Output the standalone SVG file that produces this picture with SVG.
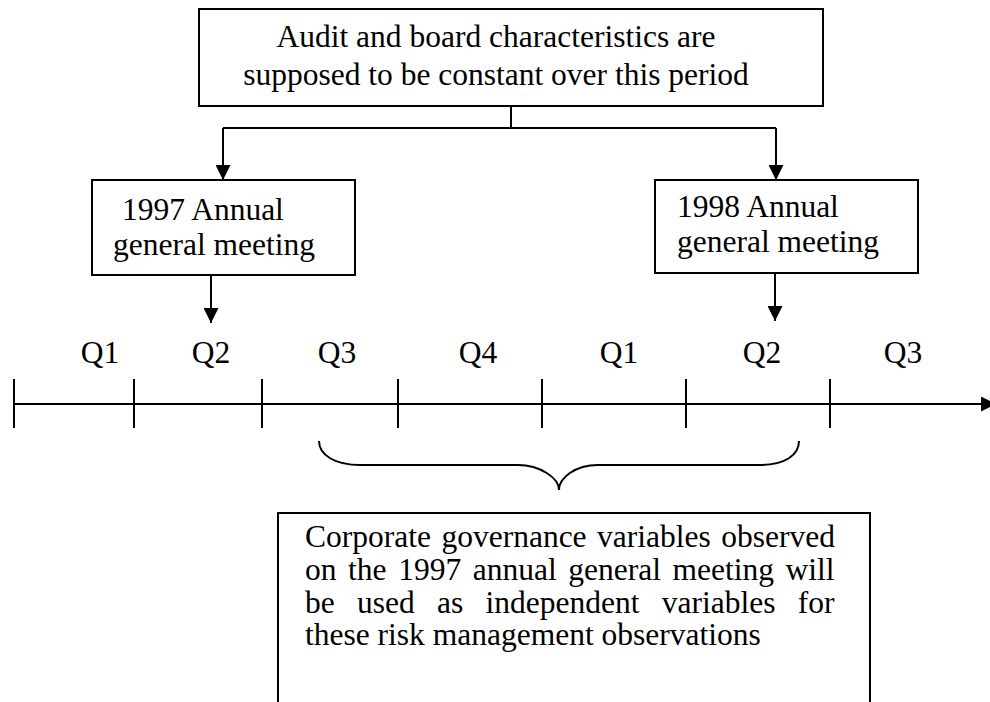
<svg xmlns="http://www.w3.org/2000/svg" width="990" height="702" viewBox="0 0 990 702">
<defs>
<style>
.box{fill:#fff;stroke:#000;stroke-width:2}
.t{font-family:"Liberation Serif","Times New Roman",serif;font-size:31.5px;fill:#000}
.c{text-anchor:middle}
.ln{fill:none;stroke:#000;stroke-width:2}
</style>
<marker id="ah" viewBox="0 0 15 15" refX="15" refY="7.5" markerWidth="15" markerHeight="15" markerUnits="userSpaceOnUse" orient="auto">
<path d="M0,0 L15,7.5 L0,15 Z" fill="#000"/>
</marker>
</defs>
<rect width="990" height="702" fill="#fff"/>
<g id="top-box">
<rect class="box" x="199" y="9" width="624" height="97"/>
<text class="t c" x="496" y="47">Audit and board characteristics are</text>
<text class="t c" x="496" y="85">supposed to be constant over this period</text>
</g>
<g id="agm-1997">
<rect class="box" x="92" y="180" width="263" height="95"/>
<text class="t" x="122" y="220">1997 Annual</text>
<text class="t" x="113" y="255">general meeting</text>
</g>
<g id="agm-1998">
<rect class="box" x="655" y="180" width="263" height="93"/>
<text class="t" x="677" y="217">1998 Annual</text>
<text class="t" x="677" y="252">general meeting</text>
</g>
<g id="timeline">
<line class="ln" x1="14" y1="404" x2="996" y2="404" marker-end="url(#ah)"/>
<line class="ln" x1="14" y1="379" x2="14" y2="428"/>
<line class="ln" x1="134" y1="379" x2="134" y2="428"/>
<line class="ln" x1="262" y1="379" x2="262" y2="428"/>
<line class="ln" x1="398" y1="379" x2="398" y2="428"/>
<line class="ln" x1="542" y1="379" x2="542" y2="428"/>
<line class="ln" x1="686" y1="379" x2="686" y2="428"/>
<line class="ln" x1="830" y1="379" x2="830" y2="428"/>
<text class="t c" x="100" y="363">Q1</text>
<text class="t c" x="211" y="363">Q2</text>
<text class="t c" x="337" y="363">Q3</text>
<text class="t c" x="478" y="363">Q4</text>
<text class="t c" x="619" y="363">Q1</text>
<text class="t c" x="762" y="363">Q2</text>
<text class="t c" x="903" y="363">Q3</text>
</g>
<g id="brace">
<path class="ln" d="M319,441 C319,455 335,465 360,465 L518,465 C540,465 559,478 559,490 C559,478 575,465 598,465 L760,465 C785,465 799,455 799,441"/>
</g>
<g id="bottom-box">
<rect class="box" x="278" y="513" width="592" height="200"/>
<text class="t" x="305" y="547" word-spacing="2.6">Corporate governance variables observed</text>
<text class="t" x="305" y="580" word-spacing="3.7">on the 1997 annual general meeting will</text>
<text class="t" x="305" y="613" word-spacing="14.4">be used as independent variables for</text>
<text class="t" x="305" y="645">these risk management observations</text>
</g>
<g id="connectors">
<polyline class="ln" points="511,106 511,128"/>
<polyline class="ln" points="223,128 776,128"/>
<line class="ln" x1="223" y1="128" x2="223" y2="180" marker-end="url(#ah)"/>
<line class="ln" x1="776" y1="128" x2="776" y2="180" marker-end="url(#ah)"/>
<line class="ln" x1="211" y1="275" x2="211" y2="323" marker-end="url(#ah)"/>
<line class="ln" x1="775" y1="273" x2="775" y2="321" marker-end="url(#ah)"/>
</g>
</svg>
